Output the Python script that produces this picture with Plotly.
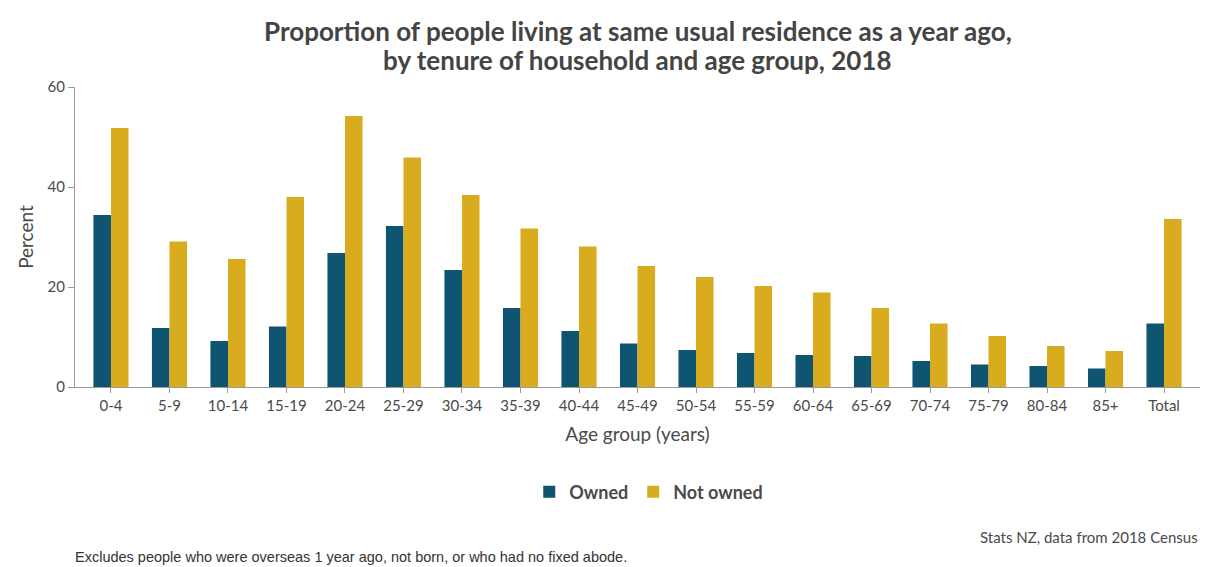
import plotly.graph_objects as go

# Age groups shown along the x axis
age_groups = ["0-4", "5-9", "10-14", "15-19", "20-24", "25-29", "30-34", "35-39",
              "40-44", "45-49", "50-54", "55-59", "60-64", "65-69", "70-74",
              "75-79", "80-84", "85+", "Total"]

# Percent living at the same usual residence as one year earlier
owned = [34.4, 11.8, 9.2, 12.1, 26.8, 32.2, 23.4, 15.8, 11.2, 8.7,
         7.4, 6.8, 6.4, 6.2, 5.2, 4.5, 4.2, 3.7, 12.7]
not_owned = [51.8, 29.1, 25.6, 38.0, 54.2, 45.9, 38.4, 31.7, 28.1, 24.2,
             22.0, 20.2, 18.9, 15.8, 12.7, 10.2, 8.2, 7.2, 33.6]

y_ticks = [0, 20, 40, 60]

title_lines = ["Proportion of people living at same usual residence as a year ago,",
               "by tenure of household and age group, 2018"]

OWNED_COLOR = "#0f5470"
NOT_OWNED_COLOR = "#d9ac1f"
TEXT_COLOR = "#4a4a4a"
TITLE_COLOR = "#444444"
AXIS_COLOR = "#9a9a9a"

fig = go.Figure()
fig.add_trace(go.Bar(name="Owned", x=age_groups, y=owned,
                     marker=dict(color=OWNED_COLOR, line=dict(width=0))))
fig.add_trace(go.Bar(name="Not owned", x=age_groups, y=not_owned,
                     marker=dict(color=NOT_OWNED_COLOR, line=dict(width=0))))

title_annotations = [
    dict(text=f"<b>{line}</b>", xref="paper", yref="paper",
         x=0.5, y=1.0, yshift=shift, xanchor="center", yanchor="middle",
         showarrow=False, font=dict(family="Lato", size=26, color=TITLE_COLOR))
    for line, shift in zip(title_lines, [56, 27])
]

fig.update_layout(
    width=1206, height=567,
    margin=dict(l=75, r=6, t=87, b=180),
    paper_bgcolor="white", plot_bgcolor="white",
    barmode="group", bargap=0.40, bargroupgap=0,
    font=dict(family="Lato", size=15, color=TEXT_COLOR),
    showlegend=True,
    legend=dict(orientation="h", x=0.51, xanchor="center", y=-0.35, yanchor="middle",
                font=dict(family="Lato", size=18, color=TEXT_COLOR, weight="bold"),
                itemwidth=30, traceorder="normal"),
    xaxis=dict(
        type="category", range=[-0.615, 18.615],
        showline=True, linecolor=AXIS_COLOR, linewidth=1,
        ticks="outside", ticklen=5, tickcolor=AXIS_COLOR,
        showgrid=False, zeroline=False,
        tickfont=dict(family="Lato", size=15, color=TEXT_COLOR),
        title=dict(text="Age group (years)", standoff=14,
                   font=dict(family="Lato", size=19, color=TEXT_COLOR)),
    ),
    yaxis=dict(
        range=[0, 60], tickvals=y_ticks,
        showline=True, linecolor=AXIS_COLOR, linewidth=1,
        ticks="outside", ticklen=6, tickcolor=AXIS_COLOR,
        showgrid=False, zeroline=False,
        tickfont=dict(family="Lato", size=15, color=TEXT_COLOR),
        title=dict(text="Percent", standoff=8,
                   font=dict(family="Lato", size=19, color=TEXT_COLOR)),
    ),
    annotations=title_annotations + [
        dict(text="Stats NZ, data from 2018 Census",
             xref="paper", yref="paper", x=1.0, y=-0.5,
             xanchor="right", yanchor="middle", showarrow=False,
             font=dict(family="Lato", size=15, color=TEXT_COLOR)),
        dict(text="Excludes people who were overseas 1 year ago, not born, or who had no fixed abode.",
             xref="paper", yref="paper", x=-0.002, y=-0.567,
             xanchor="left", yanchor="middle", showarrow=False,
             font=dict(family="Liberation Sans", size=14.5, color="#333333")),
    ],
)

fig.write_html("out.html")
